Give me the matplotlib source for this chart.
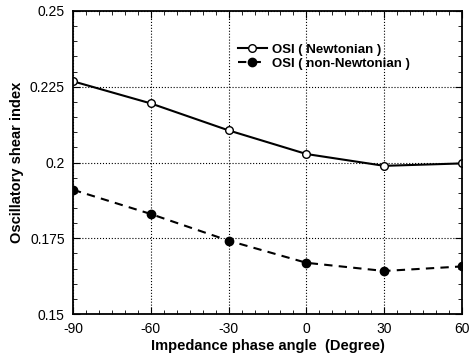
import matplotlib
matplotlib.use('Agg')
import matplotlib.pyplot as plt
from matplotlib.ticker import MultipleLocator

plt.rcParams['font.family'] = ['Liberation Sans', 'DejaVu Sans']
plt.rcParams['axes.unicode_minus'] = False

# impedance phase angle (deg) and OSI values
phase = [-90, -60, -30, 0, 30, 60]
osi_newtonian = [0.2268, 0.2195, 0.2106, 0.2028, 0.1989, 0.1997]
osi_non_newtonian = [0.1910, 0.1830, 0.1742, 0.1669, 0.1642, 0.1657]

fig = plt.figure(figsize=(4.7, 3.62), dpi=100)
ax = fig.add_axes([73/470, 1 - 314/362, (462-73)/470, (314-11)/362])

ax.plot(phase, osi_newtonian, '-', color='black', lw=1.5, marker='o',
        mfc='white', mec='black', ms=5.5, mew=1.0, label='OSI ( Newtonian )')
ax.plot(phase, osi_non_newtonian, '--', color='black', lw=1.5, marker='o',
        mfc='black', mec='black', ms=6, dashes=(4, 3), label='OSI ( non-Newtonian )')

ax.set_xlim(-90, 60)
ax.set_ylim(0.15, 0.25)
ax.set_xticks(phase)
ax.set_yticks([0.15, 0.175, 0.2, 0.225, 0.25])
ax.set_yticklabels(['0.15', '0.175', '0.2', '0.225', '0.25'])
ax.xaxis.set_minor_locator(MultipleLocator(5))
ax.yaxis.set_minor_locator(MultipleLocator(0.005))
ax.tick_params(which='both', direction='in', top=True, right=True, labelsize=10)
ax.tick_params(which='major', length=5, pad=6)
ax.tick_params(which='minor', length=3)
ax.grid(True, which='major', ls=':', color='black', lw=0.8)
for s in ax.spines.values():
    s.set_linewidth(1.3)

ax.set_xlabel('Impedance phase angle  (Degree)', fontweight='bold', fontsize=10.5, labelpad=2)
ax.set_ylabel('Oscillatory shear index', fontweight='bold', fontsize=10.5, labelpad=4)

leg = ax.legend(loc='upper left', bbox_to_anchor=(0.41, 0.91), frameon=False,
                prop={'weight': 'bold', 'size': 9.5}, handlelength=2.2,
                handletextpad=0.4, labelspacing=0.15, borderaxespad=0)

fig.savefig('out.png', dpi=100)
